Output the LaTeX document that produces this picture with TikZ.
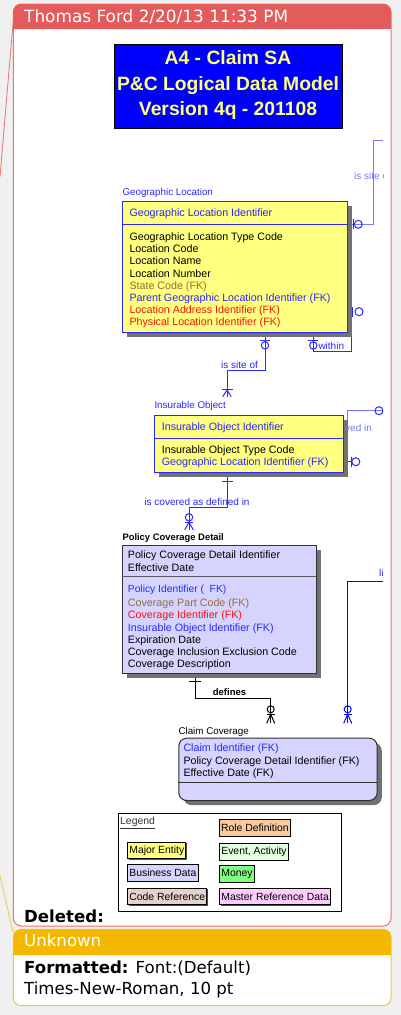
\documentclass[tikz,border=0pt]{standalone}
\usepackage{fontspec}
\setmainfont{Liberation Sans}
\newfontfamily\balfont{DejaVu Sans}
\usetikzlibrary{shadows}

\definecolor{bg}{HTML}{F0F0F0}
\definecolor{balred}{HTML}{E45B5B}
\definecolor{balredline}{HTML}{E87474}
\definecolor{balyel}{HTML}{F5B800}
\definecolor{balyelline}{HTML}{F3C64A}
\definecolor{entyellow}{HTML}{FFFF80}
\definecolor{entlav}{HTML}{D4D4FF}
\definecolor{erblue}{HTML}{2828FF}
\definecolor{erlight}{HTML}{7878FF}
\definecolor{erred}{HTML}{FF1010}
\definecolor{erbrown}{HTML}{9A6A3A}
\definecolor{titleblue}{HTML}{0000FF}
\definecolor{titleyel}{HTML}{FFFF80}
\definecolor{lgrole}{HTML}{FBC99B}
\definecolor{lgevent}{HTML}{E2FFE2}
\definecolor{lgmoney}{HTML}{80FF80}
\definecolor{lgcode}{HTML}{E6D2CC}
\definecolor{lgmaster}{HTML}{FFCCFF}
\definecolor{shadowc}{HTML}{727272}
\definecolor{darkline}{HTML}{303030}

\begin{document}
\begin{tikzpicture}[x=1pt,y=-1pt,
  attr/.style={anchor=base west, inner sep=0pt, font=\fontsize{10.7}{12}\selectfont},
  elabel/.style={anchor=base west, inner sep=0pt, font=\fontsize{9.8}{11}\selectfont},
  rlabel/.style={anchor=base west, inner sep=0pt, font=\fontsize{10}{11}\selectfont, text=erblue},
  titletext/.style={anchor=base, inner sep=0pt, text=titleyel, font=\bfseries\fontsize{19.3}{22}\selectfont},
  baltext/.style={anchor=base west, inner sep=0pt, font=\balfont\fontsize{16.6}{19}\selectfont},
  entbox/.style={anchor=north west, inner sep=0pt, line width=1pt,
     drop shadow={shadow xshift=4.6pt, shadow yshift=-4.6pt, fill=shadowc, opacity=1}},
  lgitem/.style={anchor=north west, draw=black, line width=0.9pt, inner xsep=1.6pt, inner ysep=0pt,
     minimum height=16.6pt, font=\fontsize{10.4}{12}\selectfont,
     drop shadow={shadow xshift=1pt, shadow yshift=-1pt, fill=black!70, opacity=1}},
  rel/.style={line width=1pt, erblue},
  rellight/.style={line width=1pt, erlight},
  ermark/.style={line width=1pt, erblue},
]
\useasboundingbox (0,0) rectangle (401,1015);
\fill[bg] (0,0) rectangle (401,1015);

% balloon pointer lines
\draw[balredline, line width=0.8pt] (13.3,20) -- (0,177);
\draw[balyelline, line width=0.8pt] (0,876) -- (13.3,933);

% red balloon
\draw[balredline, line width=1pt, fill=white, rounded corners=8pt] (13.3,4) rectangle (391,926);
\fill[balred] (13.3,29) [rounded corners=8pt] -- (13.3,4) -- (391,4) [sharp corners] -- (391,29) -- cycle;
\node[baltext, text=white, font=\balfont\fontsize{16.9}{19}\selectfont] (hdr) at (24,22.7) {Thomas Ford 2/20/13 11:33 PM};
\node[baltext, font=\balfont\bfseries\fontsize{16.6}{19}\selectfont] (deleted) at (24,922.3) {Deleted:};

% yellow balloon
\draw[balyelline, line width=1pt, fill=white, rounded corners=8pt] (13.3,929.3) rectangle (391,1005.7);
\fill[balyel] (13.3,955) [rounded corners=8pt] -- (13.3,929.3) -- (391,929.3) [sharp corners] -- (391,955) -- cycle;
\node[baltext, text=white] (unknown) at (24,946.7) {Unknown};
\node[baltext] (fmt1) at (24,973.3) {\textbf{Formatted:} Font:(Default)};
\node[baltext] (fmt2) at (24,994) {Times-New-Roman, 10 pt};

\begin{scope}
\clip (14,30) rectangle (383,925);

% title
\node[fill=titleblue, draw=black, line width=1pt, anchor=north west, minimum width=227.4pt, minimum height=84.3pt, inner sep=0pt] (title) at (114.3,44) {};
\node[titletext] (t1) at (228,64.3) {A4 - Claim SA};
\node[titletext] (t2) at (228,90.5) {P\&C Logical Data Model};
\node[titletext] (t3) at (228,115) {Version 4q - 201108};

% ---------- connectors ----------
\coordinate (geoR1) at (346.7,224.3);
\coordinate (siteEnd) at (383,140);
\draw[rellight] (geoR1) -- (373.3,224.3) |- (siteEnd);

\coordinate (geoR2) at (346.7,311.7);
\coordinate (geoB2) at (313.3,332.3);
\draw[rel] (geoR2) -- (351.7,311.7) |- (313.3,351.7) -- (geoB2);

\coordinate (geoB1) at (265,332.3);
\coordinate (insT1) at (227,396.7);
\draw[rel] (geoB1) |- (227,370) -- (insT1);

\coordinate (insR1) at (342.7,461.7);
\coordinate (covEnd) at (383,410.7);
\draw[rel] (insR1) -- (351.7,461.7);
\draw[rellight] (347.3,461.7) |- (covEnd);

\coordinate (insB1) at (227.3,472.3);
\coordinate (pcdT1) at (189,530);
\draw[rel] (insB1) |- (189,507.7) -- (pcdT1);

\coordinate (pcdB1) at (195,672.7);
\coordinate (ccT1) at (270.7,723.3);
\draw[line width=1pt, black] (pcdB1) |- (270.7,698.3) -- (ccT1);

\coordinate (liStart) at (383,581);
\coordinate (ccT2) at (347.7,723.3);
\draw[line width=1pt, blue] (liStart) -| (ccT2);

% ---------- entities ----------
% Geographic Location
\node[elabel, text=erblue] (geolbl) at (122.3,195) {Geographic Location};
\node[entbox, draw=erblue, fill=entyellow, minimum width=224.4pt, minimum height=131.3pt] (geo) at (122.3,201) {};
\draw[erblue, line width=1pt] (122.3,224.3) -- (346.7,224.3);
\node[attr, text=erblue] (geoid) at (129.3,216.7) {Geographic Location Identifier};
\foreach \t/\c [count=\i] in {Geographic Location Type Code/black, Location Code/black, Location Name/black, Location Number/black, State Code (FK)/erbrown, Parent Geographic Location Identifier (FK)/erblue, Location Address Identifier (FK)/erred, Physical Location Identifier (FK)/erred}
  \node[attr, text=\c] (geoa\i) at (129.3,{240.7+12.1*(\i-1)}) {\t};

% Insurable Object
\node[elabel, text=erblue] (inslbl) at (154.3,408.7) {Insurable Object};
\node[entbox, draw=erblue, fill=entyellow, minimum width=188.4pt, minimum height=57.3pt] (ins) at (154.3,415) {};
\draw[erblue, line width=1pt] (154.3,438.3) -- (342.7,438.3);
\node[attr, text=erblue] (insid) at (161.7,430.7) {Insurable Object Identifier};
\node[attr, text=black] (insa1) at (161.7,453.3) {Insurable Object Type Code};
\node[attr, text=erblue] (insa2) at (161.7,465.7) {Geographic Location Identifier (FK)};

% Policy Coverage Detail
\node[anchor=base west, inner sep=0pt, font=\bfseries\fontsize{9.4}{11}\selectfont] (pcdlbl) at (122.3,540.7) {Policy Coverage Detail};
\node[entbox, draw=darkline, fill=entlav, minimum width=193.4pt, minimum height=127.7pt] (pcd) at (122.3,545) {};
\draw[darkline!80, line width=1.4pt] (122.3,576.7) -- (315.7,576.7);
\node[attr] (pcdk1) at (127.7,558.3) {Policy Coverage Detail Identifier};
\node[attr] (pcdk2) at (127.7,571.7) {Effective Date};
\node[attr, text=erblue, font=\fontsize{10.3}{12}\selectfont] (pcda1) at (127.7,592) {Policy Identifier (~~FK)};
\foreach \t/\c [count=\i] in {Coverage Part Code (FK)/erbrown, Coverage Identifier (FK)/erred, Insurable Object Identifier (FK)/erblue, Expiration Date/black, Coverage Inclusion Exclusion Code/black, Coverage Description/black}
  \node[attr, text=\c] (pcdb\i) at (127.7,{606.7+12.2*(\i-1)}) {\t};

% Claim Coverage
\node[elabel] (cclbl) at (178.3,734) {Claim Coverage};
\node[entbox, draw=darkline, fill=entlav, rounded corners=8pt, minimum width=198.4pt, minimum height=62.3pt] (cc) at (178.3,737.7) {};
\draw[darkline, line width=1pt] (178.3,782.3) -- (376.7,782.3);
\node[attr, text=erblue] (cca1) at (183.3,751.7) {Claim Identifier (FK)};
\node[attr] (cca2) at (183.3,764) {Policy Coverage Detail Identifier (FK)};
\node[attr] (cca3) at (183.3,776) {Effective Date (FK)};

% ---------- relationship labels ----------
\node[rlabel, text=erlight] (lsite) at (354,179) {is site o};
\node[rlabel] (lsiteof) at (221,368) {is~site~of};
\node[rlabel] (lwithin) at (318.3,349) {within};
\node[rlabel, text=erlight] (lcov) at (345,431) {ved in};
\node[rlabel] (lcovdef) at (144.3,505.7) {is covered as defined in};
\node[anchor=base west, inner sep=0pt, font=\bfseries\fontsize{9.5}{11}\selectfont] (ldef) at (212.7,695.7) {defines};
\node[rlabel] (lli) at (379,576) {li};

% ---------- markers ----------
\draw[ermark] (353.3,219.3) -- (353.3,229.3);
\draw[ermark] (358.3,224.3) circle (4pt);
\draw[ermark] (352.9,306.7) -- (352.9,316.7);
\draw[ermark] (359,311.7) circle (4pt);
\draw[ermark] (308.3,340.5) -- (318.3,340.5);
\draw[ermark] (313.3,345.5) circle (3.7pt);
\draw[ermark] (260,340.7) -- (270,340.7);
\draw[ermark] (265,345.3) circle (3.7pt);
\draw[ermark] (221.5,389.3) -- (232.5,389.3);
\draw[ermark] (222.7,396.7) -- (227,390) -- (231.3,396.7);
\draw[ermark] (351.7,456.7) -- (351.7,466.7);
\draw[ermark] (355.8,461.7) circle (4pt);
\draw[ermark] (379,410.7) circle (4pt);
\draw[ermark] (222.3,481.7) -- (233.3,481.7);
\draw[ermark] (189,517.3) circle (3.7pt);
\draw[ermark] (185,522.3) -- (193,522.3);
\draw[ermark] (184.7,530) -- (189,522) -- (193.3,530);
\draw[line width=1pt, black] (189.3,681.7) -- (200.7,681.7);
\draw[line width=1pt, black] (270.7,709.3) circle (3.5pt);
\draw[line width=1pt, black] (266.7,714.3) -- (274.7,714.3);
\draw[line width=1pt, black] (266.7,723.3) -- (270.7,714.3) -- (274.7,723.3);
\draw[line width=1pt, blue] (347.7,709.3) circle (3.5pt);
\draw[line width=1pt, blue] (343.7,714.3) -- (351.7,714.3);
\draw[line width=1pt, blue] (343.7,723.3) -- (347.7,714.3) -- (351.7,723.3);

% ---------- legend ----------
\node[draw=black, line width=1pt, fill=white, anchor=north west, minimum width=222.4pt, minimum height=98.3pt, inner sep=0pt] (legend) at (118.3,812.7) {};
\node[anchor=base west, inner sep=0pt, font=\fontsize{10.4}{12}\selectfont, text=black!80] (lgtitle) at (120,824.3) {\underline{Legend}};
\node[lgitem, fill=lgrole] (lg1) at (219,819.3) {Role Definition};
\node[lgitem, fill=entyellow] (lg2) at (127.3,841.7) {Major Entity};
\node[lgitem, fill=lgevent] (lg3) at (219.3,843.3) {Event, Activity};
\node[lgitem, fill=entlav] (lg4) at (127.3,864.3) {Business Data};
\node[lgitem, fill=lgmoney] (lg5) at (219.3,865) {Money};
\node[lgitem, fill=lgcode] (lg6) at (127.3,887.7) {Code Reference};
\node[lgitem, fill=lgmaster] (lg7) at (219.3,887.7) {Master Reference Data};
\end{scope}
\end{tikzpicture}
\end{document}
